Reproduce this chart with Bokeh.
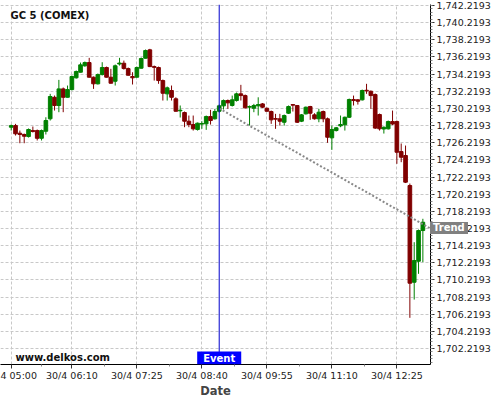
from bokeh.plotting import figure
from bokeh.models import ColumnDataSource, FixedTicker, NumeralTickFormatter, Span, Label, Range1d, Div
from bokeh.layouts import column
from bokeh.embed import file_html
from bokeh.resources import INLINE

# ---- data (5-minute candles, 30/4 05:00 .. 12:55) ----
start_minute = 300          # 05:00
step_minutes = 5
opens = [1728.03, 1728.22, 1727.33, 1727.18, 1726.94, 1727.64, 1727.64, 1726.74, 1727.56, 1729.01,
         1731.52, 1730.56, 1732.50, 1731.52, 1732.42, 1733.79, 1734.44, 1735.19, 1735.57, 1733.86,
         1733.09, 1734.17, 1734.99, 1733.86, 1733.39, 1735.40, 1735.49, 1734.87, 1733.94, 1733.86,
         1734.91, 1736.07, 1737.05, 1735.10, 1734.99, 1733.47, 1731.92, 1732.31, 1731.34, 1729.94,
         1729.74, 1728.73, 1728.34, 1727.76, 1728.39, 1728.42, 1729.27, 1729.01, 1729.89, 1730.52,
         1731.14, 1730.56, 1731.14, 1731.92, 1731.72, 1730.37, 1730.24, 1730.52, 1730.75, 1730.24,
         1729.86, 1729.04, 1729.01, 1728.61, 1729.66, 1730.67, 1730.56, 1728.73, 1729.59, 1730.44,
         1729.47, 1729.01, 1729.86, 1729.01, 1726.79, 1727.64, 1728.19, 1728.31, 1729.19, 1731.26,
         1731.22, 1731.22, 1732.34, 1732.22, 1731.84, 1729.51, 1727.82, 1727.84, 1728.69, 1728.69,
         1725.19, 1724.73, 1721.23, 1709.95, 1712.40, 1715.98]
closes = [1728.22, 1727.26, 1727.18, 1726.98, 1727.76, 1727.53, 1726.74, 1727.64, 1728.81, 1731.61,
          1730.56, 1732.50, 1731.52, 1732.42, 1733.94, 1734.52, 1735.30, 1735.57, 1733.86, 1733.09,
          1734.17, 1734.99, 1733.86, 1733.16, 1735.19, 1735.51, 1734.87, 1734.09, 1733.79, 1734.99,
          1736.04, 1736.97, 1735.10, 1735.01, 1733.47, 1731.99, 1732.62, 1731.52, 1729.89, 1730.01,
          1728.73, 1728.34, 1727.84, 1728.50, 1728.46, 1729.27, 1728.81, 1729.86, 1730.52, 1731.14,
          1730.87, 1731.22, 1731.92, 1731.72, 1730.29, 1730.44, 1730.56, 1730.67, 1730.36, 1729.89,
          1728.89, 1728.97, 1728.73, 1729.39, 1730.44, 1730.60, 1728.61, 1729.47, 1730.36, 1729.66,
          1729.01, 1729.78, 1729.01, 1726.86, 1727.76, 1727.96, 1728.34, 1729.19, 1731.26, 1731.14,
          1731.06, 1732.31, 1732.27, 1731.72, 1727.93, 1727.84, 1728.03, 1728.69, 1728.40, 1725.11,
          1724.53, 1721.62, 1709.84, 1712.48, 1715.98, 1716.95]
highs = [1728.34, 1728.42, 1727.64, 1727.29, 1727.88, 1728.11, 1727.76, 1727.76, 1729.19, 1731.92,
         1731.72, 1733.55, 1732.66, 1732.89, 1734.06, 1734.64, 1735.57, 1735.69, 1736.12, 1733.94,
         1734.29, 1735.61, 1735.10, 1734.84, 1735.34, 1736.12, 1735.80, 1734.99, 1734.44, 1735.10,
         1736.16, 1737.09, 1737.17, 1735.22, 1735.10, 1733.59, 1732.77, 1732.89, 1731.52, 1730.56,
         1729.86, 1729.39, 1729.39, 1728.57, 1728.73, 1729.39, 1730.06, 1730.17, 1730.67, 1731.26,
         1731.26, 1731.72, 1732.07, 1732.97, 1731.84, 1730.56, 1730.75, 1731.52, 1730.85, 1730.32,
         1729.97, 1729.59, 1729.59, 1729.51, 1730.56, 1730.73, 1730.62, 1729.57, 1730.44, 1730.52,
         1729.66, 1730.17, 1729.97, 1729.16, 1728.22, 1728.06, 1729.39, 1729.27, 1731.37, 1731.72,
         1731.31, 1732.42, 1733.09, 1732.31, 1731.96, 1729.62, 1728.11, 1728.81, 1729.97, 1728.81,
         1726.13, 1725.89, 1721.46, 1714.62, 1716.10, 1717.35]
lows = [1727.64, 1727.06, 1726.16, 1726.16, 1726.83, 1727.41, 1726.48, 1726.48, 1727.18, 1728.81,
        1729.97, 1729.78, 1729.78, 1731.49, 1732.31, 1733.70, 1734.41, 1735.08, 1733.82, 1732.50,
        1733.01, 1734.06, 1733.82, 1733.12, 1732.89, 1735.22, 1734.75, 1734.06, 1733.01, 1733.82,
        1734.87, 1736.04, 1735.04, 1733.47, 1733.09, 1731.14, 1731.14, 1731.14, 1729.86, 1729.16,
        1728.03, 1728.03, 1727.64, 1727.64, 1727.84, 1727.72, 1728.34, 1728.92, 1729.74, 1730.09,
        1730.17, 1730.44, 1731.02, 1731.14, 1730.21, 1728.22, 1729.78, 1729.39, 1730.27, 1729.86,
        1728.42, 1727.84, 1728.22, 1728.22, 1729.57, 1729.86, 1728.52, 1728.63, 1729.51, 1728.89,
        1728.92, 1728.61, 1728.61, 1726.21, 1725.39, 1727.53, 1728.03, 1727.64, 1729.10, 1730.56,
        1730.67, 1731.14, 1731.92, 1730.17, 1727.82, 1727.64, 1727.29, 1727.76, 1728.28, 1723.76,
        1723.95, 1721.52, 1705.80, 1707.93, 1710.93, 1712.29]

times = [start_minute + step_minutes * i for i in range(len(opens))]

x_ticks = [300, 370, 445, 520, 595, 670, 745]
x_labels = ["4 05:00", "30/4 06:10", "30/4 07:25", "30/4 08:40",
            "30/4 09:55", "30/4 11:10", "30/4 12:25"]
y_ticks = [1702.2193 + 2 * k for k in range(21)]

event_time = 540            # 30/4 09:00
trend_x = [540, 783.8]
trend_y = [1730.21, 1716.2193]

# ---- figure ----
FONT = "DejaVu Sans"
TOP, BOTTOM, RIGHT = 4, 36, 70
FRAME_W = 500.0 - RIGHT
FRAME_H = 400.0 - TOP - BOTTOM
X0, X1 = 287.65, 783.8
Y1 = 1742.34
Y0 = Y1 - FRAME_H / 8.575

p = figure(width=500, height=400, output_backend="svg", toolbar_location=None,
           x_range=Range1d(X0, X1), y_range=Range1d(Y0, Y1),
           y_axis_location="right",
           min_border_left=0, min_border_top=TOP, min_border_right=RIGHT, min_border_bottom=BOTTOM)
p.outline_line_color = None
p.background_fill_color = "white"
p.border_fill_color = "white"

xt = FixedTicker(ticks=x_ticks, minor_ticks=[335, 407.5, 482.5, 557.5, 632.5, 707.5])
yt = FixedTicker(ticks=y_ticks, minor_ticks=[1700.6193 + 0.4 * k for k in range(106)])
p.xaxis.ticker = xt
p.yaxis.ticker = yt
p.xaxis.major_label_overrides = {t: l for t, l in zip(x_ticks, x_labels)}
p.yaxis.formatter = NumeralTickFormatter(format="0,0.0000")

for ax in (p.xaxis, p.yaxis):
    ax.axis_line_color = "black"
    ax.axis_line_width = 1
    ax.major_tick_out = 4
    ax.major_tick_in = 0
    ax.minor_tick_out = 2
    ax.minor_tick_in = 0
    ax.major_tick_line_color = "#333333"
    ax.minor_tick_line_color = "#888888"
    ax.major_label_text_font = FONT
    ax.major_label_text_font_size = "9.5px"
    ax.major_label_text_color = "#222222"
    ax.major_label_standoff = 2
p.xaxis.major_label_standoff = 1

p.xaxis.axis_label = "Date"
p.xaxis.axis_label_text_font = FONT
p.xaxis.axis_label_text_font_style = "bold"
p.xaxis.axis_label_text_font_size = "11.5px"
p.xaxis.axis_label_standoff = 0

p.xgrid.ticker = xt
p.ygrid.ticker = yt
for g in (p.xgrid, p.ygrid):
    g.grid_line_color = "#c8c8c8"
    g.grid_line_dash = "3 2"
    g.grid_line_width = 1

# ---- candles ----
up = [c >= o for o, c in zip(opens, closes)]
colors = ["#008000" if u else "#800000" for u in up]
src = ColumnDataSource(dict(
    t=times, o=opens, c=closes, h=highs, l=lows,
    top=[max(o, c) for o, c in zip(opens, closes)],
    bot=[min(o, c) for o, c in zip(opens, closes)],
    color=colors))
p.segment(x0="t", y0="h", x1="t", y1="l", source=src, line_color="color", line_width=1)
p.vbar(x="t", width=4.2, top="top", bottom="bot", source=src,
       fill_color="color", line_color="color", line_width=1)

# ---- trend line ----
p.line(trend_x, trend_y, line_color="#888888", line_width=2, line_dash="2 2")

# ---- event line ----
p.add_layout(Span(location=event_time, dimension="height", line_color="#0000cc", line_width=1))

ppu = FRAME_H / (Y1 - Y0)
ppm = FRAME_W / (X1 - X0)

p.add_layout(Label(x=X0 + 10 / ppm, y=Y1 - 11 / ppu, text="GC 5 (COMEX)",
                   text_font=FONT, text_font_style="bold", text_font_size="10px",
                   text_baseline="middle", text_align="left", text_color="#111111"))
p.add_layout(Label(x=X0 + 15 / ppm, y=Y0 + 2 / ppu, text="www.delkos.com",
                   text_font=FONT, text_font_style="bold", text_font_size="10px",
                   text_baseline="bottom", text_align="left", text_color="#111111"))
p.add_layout(Label(x=event_time, y=Y0, text="Event",
                   text_font=FONT, text_font_style="bold", text_font_size="10px",
                   text_baseline="bottom", text_align="center", text_color="white",
                   background_fill_color="#0000ff", padding=(6, 1)))

# "Trend" tag sits over the price axis, outside the plot frame
trend_top = TOP + (Y1 - trend_y[-1]) * ppu - 6
trend_tag = Div(text="Trend", width=38, height=12, margin=(0, 0, 0, 0),
                styles={"position": "absolute", "left": f"{FRAME_W:.0f}px",
                        "top": f"{trend_top:.0f}px", "background-color": "#808080",
                        "color": "white", "font-family": FONT, "font-weight": "bold",
                        "font-size": "10px", "line-height": "12px",
                        "padding-left": "3px", "box-sizing": "border-box",
                        "z-index": "10", "overflow": "hidden"})

page = column(p, trend_tag, spacing=0)
open("out.html", "w").write(file_html(page, INLINE))
